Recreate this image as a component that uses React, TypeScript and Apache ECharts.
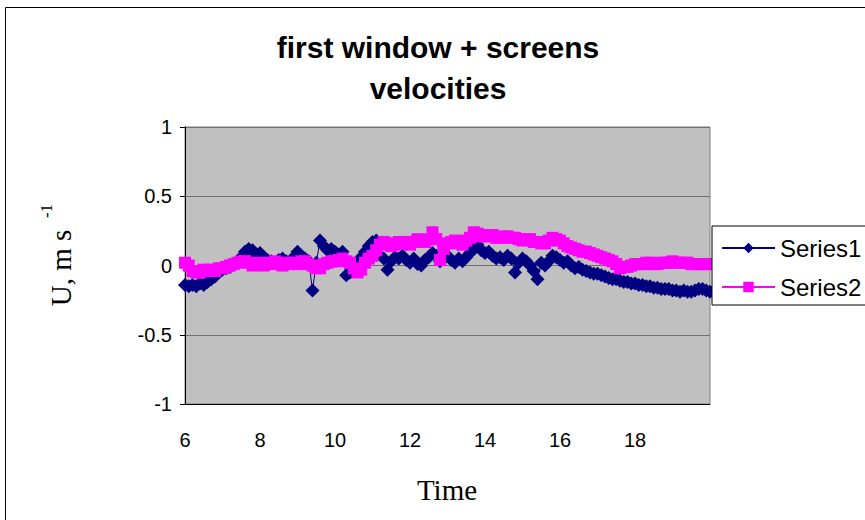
import { useEffect, useRef } from "react";
import * as echarts from "echarts";

const titleLines = ["first window + screens", "velocities"];
const xAxisTitle = "Time";
const yAxisTitle = "U, m s";
const yAxisSup = "-1";
const seriesNames = ["Series1", "Series2"];

const times: number[] = [
  6.0, 6.1, 6.2, 6.3, 6.4, 6.5, 6.6, 6.7, 6.8, 6.9,
  7.0, 7.1, 7.2, 7.3, 7.4, 7.5, 7.6, 7.7, 7.8, 7.9,
  8.0, 8.1, 8.2, 8.3, 8.4, 8.5, 8.6, 8.7, 8.8, 8.9,
  9.0, 9.1, 9.2, 9.3, 9.4, 9.5, 9.6, 9.7, 9.8, 9.9,
  10.0, 10.1, 10.2, 10.3, 10.4, 10.5, 10.6, 10.7, 10.8, 10.9,
  11.0, 11.1, 11.2, 11.3, 11.4, 11.5, 11.6, 11.7, 11.8, 11.9,
  12.0, 12.1, 12.2, 12.3, 12.4, 12.5, 12.6, 12.7, 12.8, 12.9,
  13.0, 13.1, 13.2, 13.3, 13.4, 13.5, 13.6, 13.7, 13.8, 13.9,
  14.0, 14.1, 14.2, 14.3, 14.4, 14.5, 14.6, 14.7, 14.8, 14.9,
  15.0, 15.1, 15.2, 15.3, 15.4, 15.5, 15.6, 15.7, 15.8, 15.9,
  16.0, 16.1, 16.2, 16.3, 16.4, 16.5, 16.6, 16.7, 16.8, 16.9,
  17.0, 17.1, 17.2, 17.3, 17.4, 17.5, 17.6, 17.7, 17.8, 17.9,
  18.0, 18.1, 18.2, 18.3, 18.4, 18.5, 18.6, 18.7, 18.8, 18.9,
  19.0, 19.1, 19.2, 19.3, 19.4, 19.5, 19.6, 19.7, 19.8, 19.9,
  20.0,
];

const series1Values: number[] = [
  -0.14, -0.15, -0.14, -0.15, -0.13, -0.14, -0.12, -0.10, -0.08, -0.05,
  -0.03, -0.02, -0.01, 0.01, 0.03, 0.06, 0.10, 0.12, 0.11, 0.08,
  0.09, 0.06, 0.04, 0.03, 0.02, 0.04, 0.05, 0.03, 0.02, 0.06,
  0.10, 0.07, 0.05, 0.03, -0.18, 0.02, 0.18, 0.14, 0.11, 0.12,
  0.10, 0.08, 0.10, -0.07, -0.05, -0.02, 0.02, 0.06, 0.10, 0.14,
  0.17, 0.18, 0.16, 0.05, -0.03, 0.03, 0.06, 0.05, 0.07, 0.04,
  0.02, 0.05, 0.01, 0.00, 0.04, 0.06, 0.09, 0.07, 0.03, 0.05,
  0.07, 0.04, 0.02, 0.05, 0.03, 0.06, 0.09, 0.12, 0.15, 0.11,
  0.09, 0.10, 0.07, 0.05, 0.06, 0.04, 0.07, 0.05, -0.05, 0.02,
  0.05, 0.03, 0.00, -0.04, -0.10, 0.02, 0.00, 0.03, 0.07, 0.06,
  0.04, 0.02, 0.03, 0.00, -0.02, -0.01, -0.03, -0.04, -0.05, -0.06,
  -0.06, -0.07, -0.08, -0.09, -0.10, -0.10, -0.11, -0.12, -0.12, -0.13,
  -0.13, -0.14, -0.14, -0.15, -0.15, -0.16, -0.16, -0.17, -0.17, -0.17,
  -0.18, -0.18, -0.19, -0.18, -0.19, -0.19, -0.18, -0.17, -0.17, -0.18,
  -0.19,
];

const series2Values: number[] = [
  0.02, 0.00, -0.04, -0.05, -0.05, -0.03, -0.04, -0.03, -0.04, -0.02,
  -0.02, -0.01, 0.00, 0.01, 0.02, 0.03, 0.03, 0.02, 0.00, 0.01,
  0.02, 0.00, 0.01, 0.02, 0.03, 0.01, 0.00, 0.02, 0.02, 0.01,
  0.01, 0.03, 0.03, 0.01, 0.00, -0.02, -0.02, 0.01, 0.02, 0.03,
  0.03, 0.04, 0.05, 0.03, 0.02, -0.02, -0.05, -0.03, 0.02, 0.05,
  0.07, 0.11, 0.15, 0.17, 0.16, 0.14, 0.15, 0.17, 0.16, 0.17,
  0.15, 0.17, 0.19, 0.18, 0.17, 0.19, 0.24, 0.19, 0.04, 0.12,
  0.16, 0.17, 0.18, 0.16, 0.15, 0.18, 0.20, 0.24, 0.23, 0.21,
  0.21, 0.22, 0.22, 0.20, 0.20, 0.21, 0.21, 0.20, 0.20, 0.19,
  0.18, 0.19, 0.19, 0.17, 0.17, 0.16, 0.16, 0.18, 0.20, 0.19,
  0.18, 0.16, 0.14, 0.13, 0.12, 0.11, 0.10, 0.10, 0.09, 0.08,
  0.07, 0.06, 0.05, 0.04, 0.03, 0.01, -0.02, -0.01, -0.01, 0.00,
  0.01, 0.01, 0.01, 0.02, 0.02, 0.01, 0.01, 0.02, 0.02, 0.02,
  0.03, 0.02, 0.02, 0.02, 0.02, 0.01, 0.01, 0.01, 0.01, 0.01,
  0.01,
];

const xMin = 6;
const xMax = 20;
const xInterval = 2;
const yMin = -1;
const yMax = 1;
const yInterval = 0.5;

const SANS = "'Liberation Sans', Arial, sans-serif";
const SERIF = "'Liberation Serif', 'Times New Roman', serif";

export default function App() {
  const ref = useRef<HTMLDivElement>(null);

  useEffect(() => {
    document.body.style.margin = "0";
    if (!ref.current) return;
    const chart = echarts.init(ref.current, undefined, { renderer: "svg" });
    const s1 = times.map((t, i) => [t, series1Values[i]]);
    const s2 = times.map((t, i) => [t, series2Values[i]]);
    chart.setOption({
      animation: false,
      backgroundColor: "#ffffff",
      grid: {
        left: 185,
        top: 127,
        right: 155,
        bottom: 116,
        show: true,
        backgroundColor: "#C0C0C0",
        borderColor: "#808080",
        borderWidth: 1,
      },
      xAxis: {
        type: "value",
        min: xMin,
        max: xMax,
        interval: xInterval,
        axisLine: { show: true, onZero: false, lineStyle: { color: "#000", width: 1 } },
        axisTick: { show: false },
        splitLine: { show: false },
        axisLabel: {
          showMaxLabel: false,
          margin: 26,
          color: "#000",
          fontSize: 20,
          fontFamily: SANS,
        },
      },
      yAxis: {
        type: "value",
        min: yMin,
        max: yMax,
        interval: yInterval,
        axisLine: { show: true, lineStyle: { color: "#000", width: 1 } },
        axisTick: { show: true, length: 5, lineStyle: { color: "#000" } },
        splitLine: { show: true, lineStyle: { color: "#707070", width: 1 } },
        axisLabel: {
          margin: 13,
          color: "#000",
          fontSize: 20,
          fontFamily: SANS,
        },
      },
      legend: {
        orient: "vertical",
        left: 712,
        top: 226,
        padding: [10, 30, 6, 9],
        itemGap: 15,
        itemWidth: 53,
        itemHeight: 13,
        backgroundColor: "#ffffff",
        borderColor: "#000",
        borderWidth: 1,
        borderRadius: 0,
        textStyle: { color: "#000", fontSize: 24, fontFamily: SANS },
        data: seriesNames,
      },
      series: [
        {
          name: seriesNames[0],
          type: "line",
          data: s1,
          symbol: "diamond",
          symbolSize: 14,
          showAllSymbol: true,
          lineStyle: { color: "#000080", width: 1 },
          itemStyle: { color: "#000080" },
          z: 2,
        },
        {
          name: seriesNames[1],
          type: "line",
          data: s2,
          symbol: "rect",
          symbolSize: 12,
          showAllSymbol: true,
          lineStyle: { color: "#FF00FF", width: 1 },
          itemStyle: { color: "#FF00FF" },
          z: 3,
        },
      ],
      graphic: [
        {
          type: "rect",
          shape: { x: 5.5, y: 7.5, width: 900, height: 600 },
          style: { fill: "none", stroke: "#000", lineWidth: 1 },
          silent: true,
          z: -10,
        },
        {
          type: "text",
          x: 438,
          y: 47,
          style: {
            text: titleLines[0],
            fontSize: 30,
            fontWeight: "bold",
            fontFamily: SANS,
            fill: "#000",
            align: "center",
            verticalAlign: "middle",
          },
        },
        {
          type: "text",
          x: 438,
          y: 88,
          style: {
            text: titleLines[1],
            fontSize: 30,
            fontWeight: "bold",
            fontFamily: SANS,
            fill: "#000",
            align: "center",
            verticalAlign: "middle",
          },
        },
        {
          type: "text",
          x: 447,
          y: 490,
          style: {
            text: xAxisTitle,
            fontSize: 29,
            fontFamily: SERIF,
            fill: "#000",
            align: "center",
            verticalAlign: "middle",
          },
        },
        {
          type: "text",
          x: 61,
          y: 268,
          rotation: Math.PI / 2,
          style: {
            text: yAxisTitle,
            fontSize: 29,
            fontFamily: SERIF,
            fill: "#000",
            align: "center",
            verticalAlign: "middle",
          },
        },
        {
          type: "text",
          x: 46,
          y: 211,
          rotation: Math.PI / 2,
          style: {
            text: yAxisSup,
            fontSize: 17,
            fontFamily: SERIF,
            fill: "#000",
            align: "center",
            verticalAlign: "middle",
          },
        },
      ],
    });
    return () => chart.dispose();
  }, []);

  return <div ref={ref} style={{ width: 865, height: 520 }} />;
}
